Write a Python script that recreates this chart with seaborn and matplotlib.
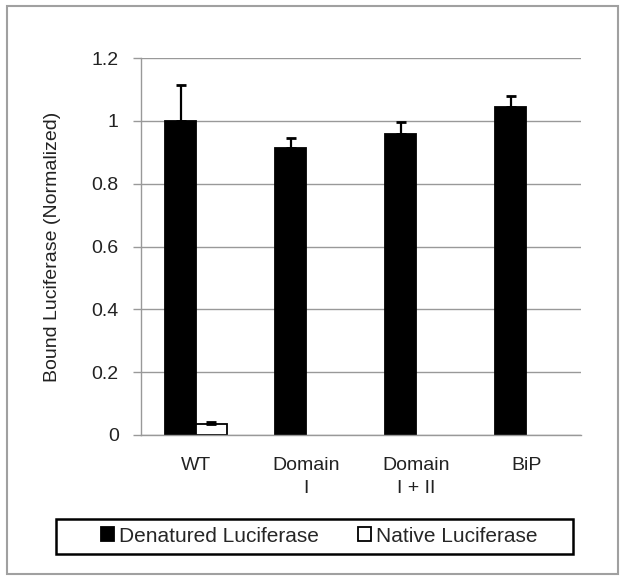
import pandas as pd
import numpy as np
import matplotlib
matplotlib.use("Agg")
import matplotlib.pyplot as plt
import seaborn as sns
from matplotlib.patches import Rectangle

# data
constructs = ["WT", "Domain\nI", "Domain\nI + II", "BiP"]
denatured = [1.0, 0.912, 0.958, 1.044]
denatured_err = [0.115, 0.035, 0.038, 0.035]
native = [0.035, 0.0, 0.0, 0.0]
native_err = [0.005, 0.0, 0.0, 0.0]
series = ["Denatured Luciferase", "Native Luciferase"]

df = pd.DataFrame({
    "construct": constructs * 2,
    "value": denatured + native,
    "series": [series[0]] * 4 + [series[1]] * 4,
})

sns.set_theme(style="white")
plt.rcParams["font.family"] = ["Liberation Sans", "DejaVu Sans"]

fig = plt.figure(figsize=(6.29, 5.82), dpi=100)
ax = fig.add_axes([0.224, 0.2526, 0.70, 0.6477])

sns.barplot(data=df, x="construct", y="value", hue="series",
            palette=["black", "white"], edgecolor="black", linewidth=1.3,
            width=0.56, errorbar=None, ax=ax)

# upward-only error bars at the bar centres; hide empty bars
for cont, errs in zip(ax.containers, [denatured_err, native_err]):
    for bar, e in zip(cont, errs):
        if bar.get_height() <= 0:
            bar.set_visible(False)
            continue
        xc = bar.get_x() + bar.get_width() / 2
        ax.errorbar(xc, bar.get_height(), yerr=[[0], [e]], fmt="none",
                    ecolor="black", elinewidth=1.6, capsize=3.5, capthick=2)

ax.set_ylim(0, 1.2)
ax.set_xlim(-0.5, 3.5)
ax.set_yticks(np.arange(0, 1.21, 0.2))
ax.set_yticklabels(["0", "0.2", "0.4", "0.6", "0.8", "1", "1.2"])
ax.yaxis.grid(True, color="#999999", linewidth=1)
ax.set_axisbelow(True)

ax.set_xticks(range(4))
ax.set_xticklabels(constructs, linespacing=1.45)
ax.set_xticks(np.arange(-0.5, 3.6, 1), minor=True)
ax.tick_params(axis="x", which="major", length=0, pad=16, labelsize=14, colors="#222222")
ax.tick_params(axis="x", which="minor", length=5, width=1, color="#999999", direction="out")
ax.tick_params(axis="y", length=6, width=1, color="#999999", direction="out",
               labelsize=14, labelcolor="#222222", pad=10, left=True)

for s in ["top", "right"]:
    ax.spines[s].set_visible(False)
for s in ["left", "bottom"]:
    ax.spines[s].set_color("#999999")
    ax.spines[s].set_linewidth(1)

ax.set_xlabel("")
ax.set_ylabel("Bound Luciferase (Normalized)", fontsize=14, color="#222222", labelpad=22)

leg = ax.legend(loc="center", bbox_to_anchor=(0.405, -0.268), ncol=2, fontsize=15,
                frameon=False, handlelength=0.65, handleheight=0.65,
                handletextpad=0.25, columnspacing=1.85)

# legend box drawn separately so it can be wider than its contents
fig.patches.append(Rectangle((56 / 629, 1 - 554 / 582), 517 / 629, 35 / 582,
                             transform=fig.transFigure, fill=False,
                             edgecolor="black", linewidth=1.8))

# outer chart border
fig.patches.append(Rectangle((0.011, 0.013), 0.972, 0.976, transform=fig.transFigure,
                             fill=False, edgecolor="#a0a0a0", linewidth=1.5))

fig.savefig("out.png", dpi=100, facecolor="white")
